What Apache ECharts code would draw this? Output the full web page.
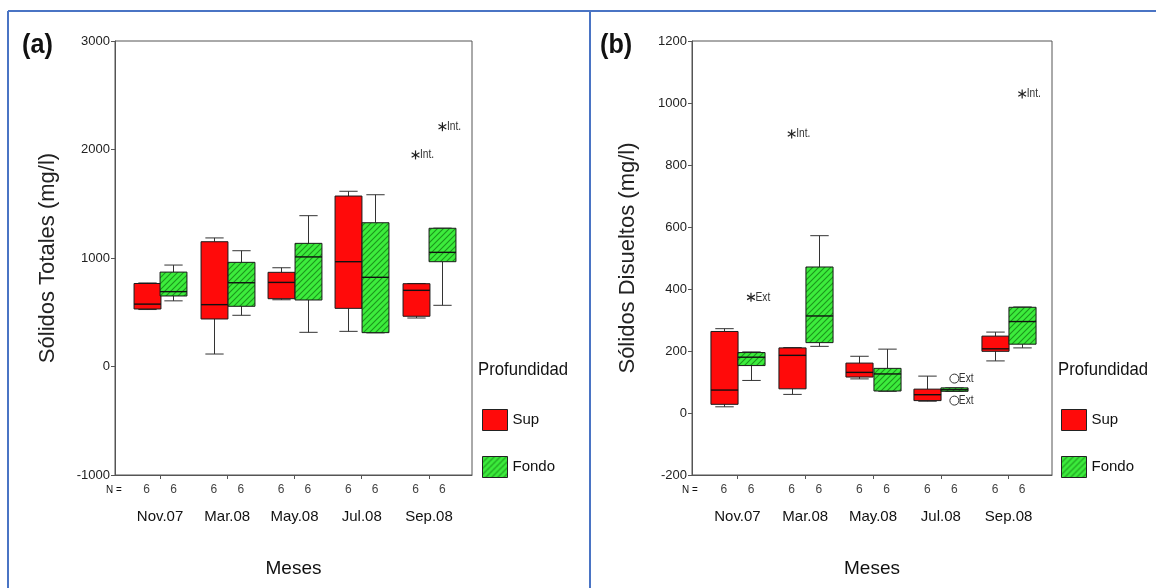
<!DOCTYPE html>
<html>
<head>
<meta charset="utf-8">
<script src="https://cdn.jsdelivr.net/npm/echarts@6/dist/echarts.min.js"></script>
<style>
  html, body { margin: 0; padding: 0; background: #fff; }
  #chart { width: 1156px; height: 588px; }
</style>
</head>
<body>
<div id="chart"></div>
<script>
// Sampling months (x categories)
const months = ['Nov.07', 'Mar.08', 'May.08', 'Jul.08', 'Sep.08'];

// Number of samples per box
const nSup = [6, 6, 6, 6, 6];
const nFondo = [6, 6, 6, 6, 6];

// Sólidos Totales (mg/l): [min, Q1, median, Q3, max] per month
const totalesSup = [
  [525, 530, 575, 765, 770],
  [115, 438, 570, 1150, 1185],
  [615, 625, 775, 868, 910],
  [324, 536, 966, 1571, 1615],
  [447, 463, 702, 763, 765]
];
const totalesFondo = [
  [605, 650, 690, 870, 935],
  [472, 555, 772, 960, 1067],
  [315, 613, 1010, 1135, 1390],
  [310, 312, 822, 1325, 1583],
  [564, 966, 1052, 1274, 1275]
];
// Atypical values: [month index, depth, value, tag, marker]
const totalesAtipicos = [
  [4, 'Sup', 1950, 'Int.', 'star'],
  [4, 'Fondo', 2210, 'Int.', 'star']
];

// Sólidos Disueltos (mg/l): [min, Q1, median, Q3, max] per month
const disueltosSup = [
  [20, 28, 74, 263, 272],
  [60, 78, 186, 210, 211],
  [110, 116, 131, 161, 183],
  [38, 40, 59, 77, 119],
  [168, 199, 207, 248, 261]
];
const disueltosFondo = [
  [105, 153, 180, 195, 197],
  [215, 227, 313, 471, 572],
  [70, 71, 126, 144, 206],
  [70, 70, 75, 81, 81],
  [210, 222, 295, 341, 342]
];
const disueltosAtipicos = [
  [0, 'Fondo', 373, 'Ext', 'star'],
  [1, 'Sup', 900, 'Int.', 'star'],
  [3, 'Fondo', 111, 'Ext', 'circle'],
  [3, 'Fondo', 40, 'Ext', 'circle'],
  [4, 'Fondo', 1029, 'Int.', 'star']
];

// Value axis ranges: [min, max, interval]
const totalesEje = [-1000, 3000, 1000];
const disueltosEje = [-200, 1200, 200];

// ---------------------------------------------------------------
const FONT = "'Liberation Sans', Arial, sans-serif";
const X_MIN = 0.33, X_MAX = 5.64;
const OFFSET = { Sup: -0.2, Fondo: 0.2 };
const BOX_W = 0.4;
const RED = '#ff0a0a';
const AXIS = '#555';

function hatchPattern() {
  const c = document.createElement('canvas');
  c.width = 6; c.height = 6;
  const g = c.getContext('2d');
  g.fillStyle = '#3cec3c';
  g.fillRect(0, 0, 6, 6);
  g.strokeStyle = '#1c961c';
  g.lineWidth = 1.1;
  g.beginPath();
  g.moveTo(-1, 7); g.lineTo(7, -1);
  g.moveTo(-1, 1); g.lineTo(1, -1);
  g.moveTo(5, 7); g.lineTo(7, 5);
  g.stroke();
  return { image: c, repeat: 'repeat' };
}
const HATCH = hatchPattern();

function boxSeries(name, stats, fill, xi, yi) {
  return {
    type: 'custom',
    name: name,
    xAxisIndex: xi,
    yAxisIndex: yi,
    itemStyle: { color: fill, borderColor: '#111', borderWidth: 1 },
    data: stats.map((s, i) => [i + 1 + OFFSET[name]].concat(s)),
    encode: { x: 0, y: [1, 2, 3, 4, 5] },
    renderItem: function (params, api) {
      const x = api.value(0);
      const pMin = api.coord([x, api.value(1)]);
      const pQ1 = api.coord([x, api.value(2)]);
      const pMed = api.coord([x, api.value(3)]);
      const pQ3 = api.coord([x, api.value(4)]);
      const pMax = api.coord([x, api.value(5)]);
      const w = api.size([BOX_W, 0])[0];
      const cap = w * 0.68;
      const cx = Math.round(pMed[0]) + 0.5;
      const left = cx - w / 2;
      const ln = { stroke: '#333', lineWidth: 1 };
      return {
        type: 'group',
        children: [
          { type: 'line', shape: { x1: cx, y1: pMax[1], x2: cx, y2: pQ3[1] }, style: ln },
          { type: 'line', shape: { x1: cx, y1: pQ1[1], x2: cx, y2: pMin[1] }, style: ln },
          { type: 'line', shape: { x1: cx - cap / 2, y1: pMax[1], x2: cx + cap / 2, y2: pMax[1] }, style: ln },
          { type: 'line', shape: { x1: cx - cap / 2, y1: pMin[1], x2: cx + cap / 2, y2: pMin[1] }, style: ln },
          { type: 'rect', shape: { x: left, y: pQ3[1], width: w, height: pQ1[1] - pQ3[1] },
            style: { fill: fill, stroke: '#1a1a1a', lineWidth: 1 } },
          { type: 'line', shape: { x1: left, y1: pMed[1], x2: left + w, y2: pMed[1] },
            style: { stroke: '#111', lineWidth: 1.4 } }
        ]
      };
    }
  };
}

function outlierSeries(list, xi, yi) {
  return {
    type: 'custom',
    name: 'Atípicos',
    xAxisIndex: xi,
    yAxisIndex: yi,
    silent: true,
    data: list.map(o => [o[0] + 1 + OFFSET[o[1]], o[2]]),
    encode: { x: 0, y: 1 },
    renderItem: function (params, api) {
      const p = api.coord([api.value(0), api.value(1)]);
      const o = list[params.dataIndex];
      const r = 4.5;
      const st = { stroke: '#222', lineWidth: 1.2 };
      const kids = [];
      if (o[4] === 'circle') {
        kids.push({ type: 'circle', shape: { cx: p[0], cy: p[1], r: r }, style: { fill: 'none', stroke: '#333', lineWidth: 1 } });
      } else {
        [90, 30, 150].forEach(a => {
          const t = a * Math.PI / 180;
          kids.push({ type: 'line', shape: { x1: p[0] - r * Math.cos(t), y1: p[1] + r * Math.sin(t), x2: p[0] + r * Math.cos(t), y2: p[1] - r * Math.sin(t) }, style: st });
        });
      }
      kids.push({ type: 'text', x: p[0] + r, y: p[1], scaleX: 0.85,
        style: { text: o[3], fill: '#333', font: '12px ' + FONT, textVerticalAlign: 'middle', textAlign: 'left' } });
      return { type: 'group', children: kids };
    }
  };
}

function monthAxis(grid) {
  return {
    type: 'value', gridIndex: grid, min: X_MIN, max: X_MAX, position: 'bottom',
    name: 'Meses', nameLocation: 'middle', nameGap: 84,
    nameTextStyle: { fontFamily: FONT, fontSize: 19, color: '#111' },
    axisLine: { show: true, onZero: false, lineStyle: { color: AXIS, width: 1 } },
    axisTick: { show: true, customValues: [1, 2, 3, 4, 5], length: 4, lineStyle: { color: AXIS } },
    axisLabel: { show: true, customValues: [1, 2, 3, 4, 5], formatter: v => months[Math.round(v) - 1],
      margin: 34, fontFamily: FONT, fontSize: 15, color: '#111' },
    splitLine: { show: false }
  };
}

function countAxis(grid) {
  const vals = [];
  months.forEach((m, i) => { vals.push(i + 1 + OFFSET.Sup); vals.push(i + 1 + OFFSET.Fondo); });
  return {
    type: 'value', gridIndex: grid, min: X_MIN, max: X_MAX, position: 'bottom',
    axisLine: { show: false, onZero: false }, axisTick: { show: false }, splitLine: { show: false },
    axisLabel: {
      customValues: vals,
      formatter: v => { const i = Math.round(v) - 1; return String(v < i + 1 ? nSup[i] : nFondo[i]); },
      margin: 9, fontFamily: FONT, fontSize: 12, color: '#444'
    }
  };
}

function valueAxis(grid, range, title, gap) {
  return {
    type: 'value', gridIndex: grid, min: range[0], max: range[1], interval: range[2],
    name: title, nameLocation: 'middle', nameGap: gap,
    nameTextStyle: { fontFamily: FONT, fontSize: 22, color: '#222' },
    axisLine: { show: true, lineStyle: { color: AXIS, width: 1 } },
    axisTick: { show: true, length: 4, lineStyle: { color: AXIS } },
    axisLabel: { formatter: v => String(v), fontFamily: FONT, fontSize: 13, color: '#222', margin: 5 },
    splitLine: { show: false }
  };
}

function legendAt(left) {
  return {
    left: left, top: 409, orient: 'vertical', data: ['Sup', 'Fondo'], icon: 'rect',
    itemWidth: 25, itemHeight: 21, itemGap: 25, padding: 0, selectedMode: false,
    itemStyle: { borderColor: '#222', borderWidth: 1 },
    textStyle: { fontFamily: FONT, fontSize: 15, color: '#111' }
  };
}

function txt(x, y, text, font, sx) {
  return { type: 'text', x: x, y: y, scaleX: sx || 1, silent: true,
    style: { text: text, font: font, fill: '#111', textAlign: 'left', textVerticalAlign: 'middle' } };
}

const chart = echarts.init(document.getElementById('chart'), null, { renderer: 'canvas' });
chart.setOption({
  animation: false,
  backgroundColor: '#fff',
  grid: [
    { left: 115, top: 41, width: 357, height: 434, show: true, borderColor: AXIS, borderWidth: 1, backgroundColor: 'transparent' },
    { left: 692, top: 41, width: 360, height: 434, show: true, borderColor: AXIS, borderWidth: 1, backgroundColor: 'transparent' }
  ],
  xAxis: [monthAxis(0), countAxis(0), monthAxis(1), countAxis(1)],
  yAxis: [
    valueAxis(0, totalesEje, 'Sólidos Totales (mg/l)', 56),
    valueAxis(1, disueltosEje, 'Sólidos Disueltos (mg/l)', 53)
  ],
  legend: [legendAt(482), legendAt(1061)],
  series: [
    boxSeries('Sup', totalesSup, RED, 0, 0),
    boxSeries('Fondo', totalesFondo, HATCH, 0, 0),
    outlierSeries(totalesAtipicos, 0, 0),
    boxSeries('Sup', disueltosSup, RED, 2, 1),
    boxSeries('Fondo', disueltosFondo, HATCH, 2, 1),
    outlierSeries(disueltosAtipicos, 2, 1)
  ],
  graphic: [
    { type: 'line', silent: true, shape: { x1: 8, y1: 11, x2: 1156, y2: 11 }, style: { stroke: '#4a74c4', lineWidth: 2 } },
    { type: 'line', silent: true, shape: { x1: 8, y1: 11, x2: 8, y2: 588 }, style: { stroke: '#4a74c4', lineWidth: 2 } },
    { type: 'line', silent: true, shape: { x1: 590, y1: 11, x2: 590, y2: 588 }, style: { stroke: '#4a74c4', lineWidth: 2 } },
    txt(22, 45, '(a)', 'bold 28px ' + FONT, 0.9),
    txt(600, 45, '(b)', 'bold 28px ' + FONT, 0.9),
    txt(478, 370, 'Profundidad', '19px ' + FONT, 0.88),
    txt(1058, 370, 'Profundidad', '19px ' + FONT, 0.88),
    txt(106, 490, 'N =', '11px ' + FONT, 0.9),
    txt(682, 490, 'N =', '11px ' + FONT, 0.9)
  ]
});
</script>
</body>
</html>
